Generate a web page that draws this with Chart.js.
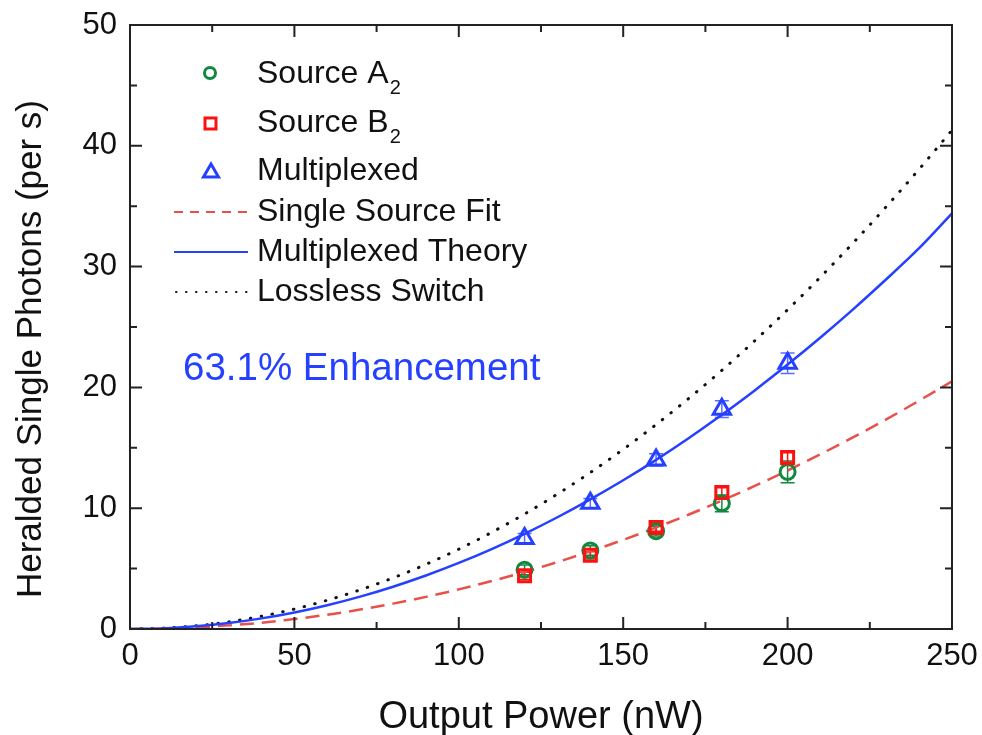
<!DOCTYPE html>
<html>
<head>
<meta charset="utf-8">
<script src="https://cdn.jsdelivr.net/npm/chart.js@4.4.1/dist/chart.umd.min.js"></script>
<style>
  html, body { margin: 0; padding: 0; background: #fff; }
  #wrap { width: 982px; height: 735px; }
</style>
</head>
<body>
<div id="wrap"><canvas id="photonChart" width="982" height="735"></canvas></div>
<script>
// measured points (nW, counts per s)
const POWER = [120, 140, 160, 180, 200];
const SOURCE_A = [4.9, 6.5, 8.1, 10.4, 13.0];
const SOURCE_A_ERR = [0.4, 0.4, 0.4, 0.7, 0.9];
const SOURCE_B = [4.4, 6.1, 8.4, 11.3, 14.2];
const SOURCE_B_ERR = [0.3, 0.3, 0.3, 0.4, 0.4];
const MULTIPLEXED = [7.5, 10.4, 14.0, 18.2, 22.0];
const MULTIPLEXED_ERR = [0.4, 0.4, 0.5, 0.7, 0.85];

// curves every 10 nW
const CURVE_X = [0, 10, 20, 30, 40, 50, 60, 70, 80, 90, 100, 110, 120, 130, 140, 150, 160, 170, 180, 190, 200, 210, 220, 230, 240, 250];
const SINGLE_FIT = [0, 0.03, 0.13, 0.3, 0.52, 0.82, 1.18, 1.61, 2.1, 2.66, 3.28, 3.97, 4.72, 5.54, 6.43, 7.38, 8.4, 9.48, 10.63, 11.84, 13.12, 14.47, 15.88, 17.35, 18.9, 20.5];
const MUX_THEORY = [0, 0.05, 0.22, 0.49, 0.88, 1.37, 1.97, 2.68, 3.5, 4.43, 5.47, 6.62, 7.88, 9.25, 10.73, 12.31, 14.0, 15.81, 17.73, 19.75, 21.89, 24.13, 26.48, 28.95, 31.52, 34.4];
const LOSSLESS = [0, 0.07, 0.26, 0.59, 1.06, 1.65, 2.38, 3.24, 4.23, 5.35, 6.61, 8.0, 9.52, 11.17, 12.95, 14.87, 16.92, 19.1, 21.41, 23.86, 26.43, 29.14, 31.98, 34.96, 38.06, 41.3];

const FONT = "'Liberation Sans', Arial, sans-serif";
const GREEN = "#10893e";
const RED = "#ff1010";
const BLUE = "#2540ff";

const pts = (xs, ys) => xs.map((x, i) => ({ x: x, y: ys[i] }));

// error bars drawn under the markers
const errorBars = {
    id: 'errorBars',
    beforeDatasetsDraw(chart) {
        const { ctx, scales: { x, y } } = chart;
        chart.data.datasets.forEach(ds => {
            if (!ds.errors) return;
            ctx.save();
            ctx.strokeStyle = ds.errColor;
            ctx.lineWidth = 1.5;
            ds.data.forEach((p, i) => {
                const px = x.getPixelForValue(p.x);
                const top = y.getPixelForValue(p.y + ds.errors[i]);
                const bot = y.getPixelForValue(p.y - ds.errors[i]);
                ctx.beginPath();
                ctx.moveTo(px, top); ctx.lineTo(px, bot);
                ctx.moveTo(px - 7, top); ctx.lineTo(px + 7, top);
                ctx.moveTo(px - 7, bot); ctx.lineTo(px + 7, bot);
                ctx.stroke();
            });
            ctx.restore();
        });
    }
};

// box with inward ticks on all four sides
const frame = {
    id: 'frame',
    afterDraw(chart) {
        const { ctx, chartArea: a, scales: { x, y } } = chart;
        ctx.save();
        ctx.strokeStyle = "#222";
        ctx.lineWidth = 2;
        ctx.strokeRect(a.left, a.top, a.right - a.left, a.bottom - a.top);
        ctx.beginPath();
        for (let v = 25; v < 250; v += 25) {
            const len = v % 50 === 0 ? 12 : 7;
            const px = x.getPixelForValue(v);
            ctx.moveTo(px, a.bottom); ctx.lineTo(px, a.bottom - len);
            ctx.moveTo(px, a.top); ctx.lineTo(px, a.top + len);
        }
        for (let v = 5; v < 50; v += 5) {
            const len = v % 10 === 0 ? 12 : 7;
            const py = y.getPixelForValue(v);
            ctx.moveTo(a.left, py); ctx.lineTo(a.left + len, py);
            ctx.moveTo(a.right, py); ctx.lineTo(a.right - len, py);
        }
        ctx.stroke();
        // y axis title, sits a bit below the plot centre
        ctx.translate(31, 349);
        ctx.rotate(-Math.PI / 2);
        ctx.font = "35px " + FONT;
        ctx.fillStyle = "#111";
        ctx.textAlign = "center";
        ctx.textBaseline = "middle";
        ctx.fillText("Heralded Single Photons (per s)", 0, 0);
        ctx.restore();
    }
};

// legend and annotation text with subscripts
const legendBox = {
    id: 'legendBox',
    afterDraw(chart) {
        const ctx = chart.ctx;
        ctx.save();
        ctx.textBaseline = "middle";
        const tx = 257;
        const rows = [
            { y: 74, label: "Source A", sub: "2" },
            { y: 123, label: "Source B", sub: "2" },
            { y: 171, label: "Multiplexed" },
            { y: 212, label: "Single Source Fit" },
            { y: 252, label: "Multiplexed Theory" },
            { y: 292, label: "Lossless Switch" }
        ];
        rows.forEach(r => {
            ctx.font = "32px " + FONT;
            ctx.fillStyle = "#111";
            ctx.fillText(r.label, tx, r.y);
            if (r.sub) {
                const w = ctx.measureText(r.label).width;
                ctx.font = "20px " + FONT;
                ctx.fillText(r.sub, tx + w + 1, r.y + 14);
            }
        });
        // symbols
        ctx.lineWidth = 3;
        ctx.strokeStyle = GREEN;
        ctx.beginPath(); ctx.arc(210, 73, 5.5, 0, Math.PI * 2); ctx.stroke();
        ctx.strokeStyle = RED;
        ctx.strokeRect(205, 118, 11, 11);
        ctx.strokeStyle = BLUE;
        ctx.beginPath(); ctx.moveTo(211, 164); ctx.lineTo(218.5, 177); ctx.lineTo(203.5, 177); ctx.closePath(); ctx.stroke();
        ctx.lineWidth = 2;
        ctx.strokeStyle = "#e8504a"; ctx.setLineDash([9, 7]);
        ctx.beginPath(); ctx.moveTo(174, 212); ctx.lineTo(248, 212); ctx.stroke();
        ctx.strokeStyle = BLUE; ctx.setLineDash([]);
        ctx.beginPath(); ctx.moveTo(174, 252); ctx.lineTo(248, 252); ctx.stroke();
        ctx.strokeStyle = "#111"; ctx.lineCap = "round"; ctx.setLineDash([0.5, 9.5]);
        ctx.beginPath(); ctx.moveTo(176, 292); ctx.lineTo(248, 292); ctx.stroke();
        ctx.setLineDash([]);
        ctx.font = "38.5px " + FONT;
        ctx.fillStyle = BLUE;
        ctx.fillText("63.1% Enhancement", 183, 369);
        ctx.restore();
    }
};

const ctx = document.getElementById('photonChart').getContext('2d');
new Chart(ctx, {
    type: 'scatter',
    data: {
        datasets: [
            { label: "Source A2", data: pts(POWER, SOURCE_A), errors: SOURCE_A_ERR, errColor: GREEN,
              pointStyle: 'circle', pointRadius: 7.5, borderWidth: 3, borderColor: GREEN, backgroundColor: 'rgba(0,0,0,0)', order: 2 },
            { label: "Source B2", data: pts(POWER, SOURCE_B), errors: SOURCE_B_ERR, errColor: RED,
              pointStyle: 'rect', pointRadius: 8.5, borderWidth: 3, borderColor: RED, backgroundColor: 'rgba(0,0,0,0)', order: 1 },
            { label: "Multiplexed", data: pts(POWER, MULTIPLEXED), errors: MULTIPLEXED_ERR, errColor: "#5a6dff",
              pointStyle: 'triangle', pointRadius: 10, borderWidth: 3, borderColor: BLUE, backgroundColor: 'rgba(0,0,0,0)', order: 0 },
            { label: "Single Source Fit", type: 'line', data: pts(CURVE_X, SINGLE_FIT), borderColor: "#e8504a",
              borderWidth: 2.5, borderDash: [14, 8], pointRadius: 0, cubicInterpolationMode: 'monotone', fill: false, order: 5 },
            { label: "Multiplexed Theory", type: 'line', data: pts(CURVE_X, MUX_THEORY), borderColor: BLUE,
              borderWidth: 2.5, pointRadius: 0, cubicInterpolationMode: 'monotone', fill: false, order: 4 },
            { label: "Lossless Switch", type: 'line', data: pts(CURVE_X, LOSSLESS), borderColor: "#111",
              borderWidth: 3, borderDash: [0.5, 10.5], borderCapStyle: 'round', pointRadius: 0, cubicInterpolationMode: 'monotone', fill: false, order: 6 }
        ]
    },
    options: {
        responsive: false,
        animation: false,
        layout: { padding: { left: 0, right: 30, top: 25, bottom: 0 } },
        plugins: { legend: { display: false }, tooltip: { enabled: false } },
        scales: {
            x: {
                type: 'linear', min: 0, max: 250,
                grid: { display: false, drawTicks: false },
                border: { display: false },
                ticks: { stepSize: 50, color: "#111", padding: 9, font: { family: FONT, size: 31 } },
                title: { display: true, text: 'Output Power (nW)', color: "#111", font: { family: FONT, size: 38 }, padding: { top: 0, bottom: -5 } },
                afterFit: s => { s.height = 106; s.paddingLeft = 0; s.paddingRight = 0; }
            },
            y: {
                min: 0, max: 50,
                grid: { display: false, drawTicks: false },
                border: { display: false },
                ticks: { stepSize: 10, color: "#111", padding: 13, font: { family: FONT, size: 31 } },
                title: { display: false },
                afterFit: s => { s.width = 130; s.paddingTop = 0; s.paddingBottom = 0; }
            }
        }
    },
    plugins: [errorBars, frame, legendBox]
});
</script>
</body>
</html>
